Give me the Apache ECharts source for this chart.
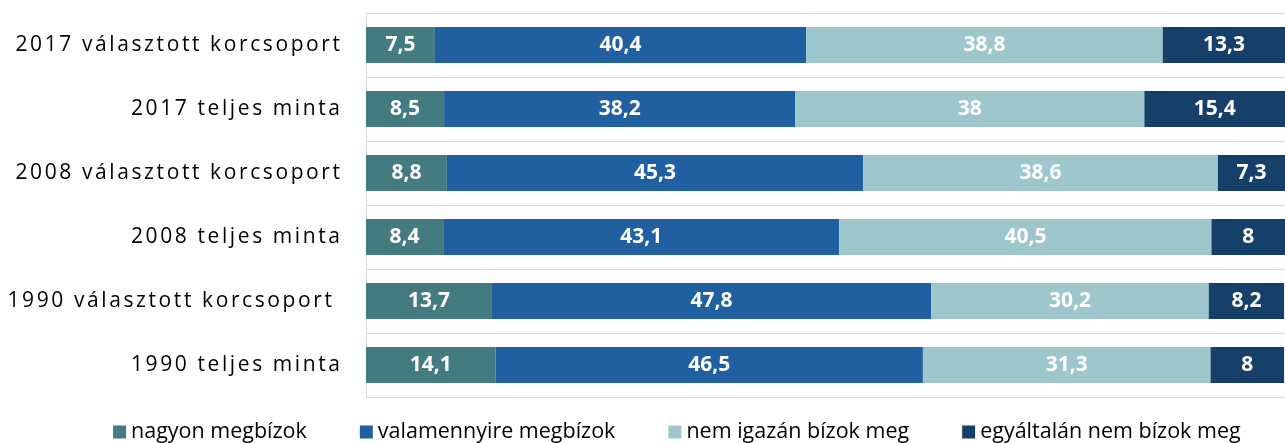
<!DOCTYPE html>
<html>
<head>
<meta charset="utf-8">
<script src="https://cdn.jsdelivr.net/npm/echarts@6/dist/echarts.min.js"></script>
<style>
  html, body { margin: 0; padding: 0; background: #fff; }
  #main { width: 1285px; height: 443px; }
</style>
</head>
<body>
<div id="main"></div>
<script>
// kategóriák felülről lefelé
const categories = [
  '2017 választott korcsoport',
  '2017 teljes minta',
  '2008 választott korcsoport',
  '2008 teljes minta',
  '1990 választott korcsoport ',
  '1990 teljes minta'
];
const seriesNames = ['nagyon megbízok', 'valamennyire megbízok', 'nem igazán bízok meg', 'egyáltalán nem bízok meg'];
const nagyon = [7.5, 8.5, 8.8, 8.4, 13.7, 14.1];
const valamennyire = [40.4, 38.2, 45.3, 43.1, 47.8, 46.5];
const nemIgazan = [38.8, 38, 38.6, 40.5, 30.2, 31.3];
const egyaltalan = [13.3, 15.4, 7.3, 8, 8.2, 8];
const colors = ['#447b81', '#2160a0', '#9ec6cd', '#163f6a'];

const chart = echarts.init(document.getElementById('main'), null, {renderer: 'canvas'});

const fmt = p => String(p.value).replace('.', ',');

// ritkított betűköz: karakterenként rich text
const spaced = v => v.split('').map(ch => '{c|' + ch + '}').join('');

const mkSeries = (name, data, i) => ({
  name: name,
  type: 'bar',
  stack: 'total',
  data: data,
  barCategoryGap: '44%',
  itemStyle: {color: colors[i]},
  label: {
    show: true,
    position: 'inside',
    color: '#fff',
    fontFamily: 'Open Sans',
    fontWeight: 'bold',
    fontSize: 21,
    formatter: fmt
  }
});

const option = {
  animation: false,
  color: colors,
  grid: {left: 366, right: 0, top: 13, bottom: 46},
  legend: {
    left: 113,
    top: 421,
    padding: 0,
    itemWidth: 13,
    itemHeight: 13,
    itemGap: 53,
    icon: 'rect',
    textStyle: {fontFamily: 'Open Sans', fontSize: 21.5, color: '#000'},
    data: seriesNames
  },
  xAxis: {
    type: 'value',
    min: 0,
    max: 100,
    show: false
  },
  yAxis: {
    type: 'category',
    inverse: true,
    data: categories,
    axisTick: {show: false},
    axisLine: {show: true, lineStyle: {color: '#d9d9d9', width: 1}},
    splitLine: {show: true, lineStyle: {color: '#d9d9d9', width: 1}},
    axisLabel: {
      margin: 23.4,
      formatter: spaced,
      rich: {
        c: {
          color: '#000',
          fontFamily: 'Open Sans',
          fontSize: 21,
          padding: [0, 2.6, 0, 0]
        }
      }
    }
  },
  series: [
    mkSeries(seriesNames[0], nagyon, 0),
    mkSeries(seriesNames[1], valamennyire, 1),
    mkSeries(seriesNames[2], nemIgazan, 2),
    mkSeries(seriesNames[3], egyaltalan, 3)
  ]
};

chart.setOption(option);
</script>
</body>
</html>
